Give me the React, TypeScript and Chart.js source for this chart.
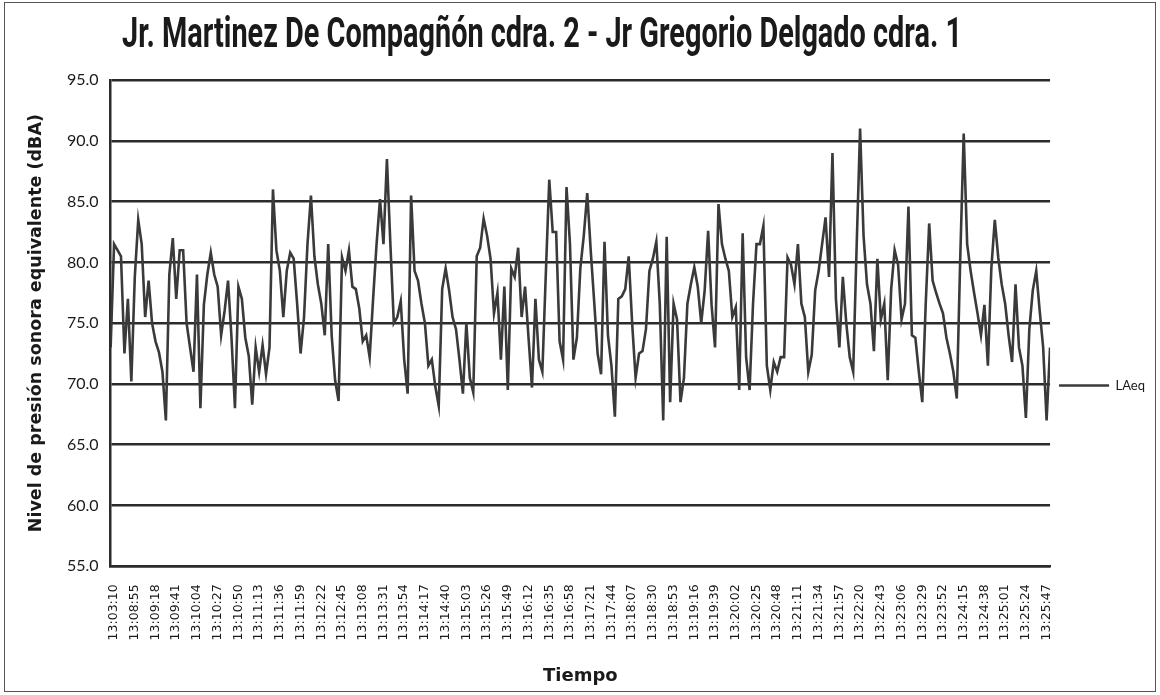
import React, { useEffect, useRef } from 'react';
import { Chart, registerables } from 'chart.js';

Chart.register(...registerables);

const chartTitle = 'Jr. Martinez De Compagñón cdra. 2 - Jr Gregorio Delgado cdra. 1';
const yAxisTitle = 'Nivel de presión sonora equivalente (dBA)';
const xAxisTitle = 'Tiempo';
const seriesName = 'LAeq';

const timeLabels = [
  '13:03:10', '13:08:55', '13:09:18', '13:09:41', '13:10:04', '13:10:27', '13:10:50', '13:11:13',
  '13:11:36', '13:11:59', '13:12:22', '13:12:45', '13:13:08', '13:13:31', '13:13:54', '13:14:17',
  '13:14:40', '13:15:03', '13:15:26', '13:15:49', '13:16:12', '13:16:35', '13:16:58', '13:17:21',
  '13:17:44', '13:18:07', '13:18:30', '13:18:53', '13:19:16', '13:19:39', '13:20:02', '13:20:25',
  '13:20:48', '13:21:11', '13:21:34', '13:21:57', '13:22:20', '13:22:43', '13:23:06', '13:23:29',
  '13:23:52', '13:24:15', '13:24:38', '13:25:01', '13:25:24', '13:25:47',
];

// samples between two consecutive time labels
const pointsPerLabel = 6;

const yMin = 55;
const yMax = 95;
const yStep = 5;

// LAeq readings (dBA); the first sample sits just before the first label
const laeq = [
  73, 81.5, 81, 80.5, 72.5, 77, 70.2, 78.8, 83.5, 81.5,
  75.5, 78.5, 75, 73.5, 72.6, 71, 67, 79, 82, 77,
  81, 81, 75, 73, 71, 79, 68, 76.5, 79, 80.8,
  79, 78, 74, 76, 78.5, 73.8, 68, 78, 77, 73.8,
  72.3, 68.3, 73, 71, 73.2, 70.8, 73, 86, 81, 79.3,
  75.5, 79.3, 80.8, 80.3, 76.6, 72.5, 75.5, 81.5, 85.5, 80.5,
  78.2, 76.6, 74, 81.5, 74, 70.3, 68.6, 80.4, 79.3, 81,
  78, 77.8, 76.2, 73.5, 74, 72.2, 77, 81.5, 85.2, 81.5,
  88.5, 81.5, 75, 75.5, 76.8, 72, 69.2, 85.5, 79.3, 78.5,
  76.6, 75, 71.5, 72, 69.8, 68.2, 77.8, 79.5, 77.7, 75.5,
  74.5, 72, 69.2, 75, 70.5, 69.3, 80.5, 81.2, 83.6, 82.2,
  80.3, 75.8, 77.5, 72, 78, 69.5, 79.5, 78.8, 81.2, 75.5,
  78, 73.8, 69.7, 77, 72, 71, 79, 86.8, 82.5, 82.5,
  73.5, 72, 86.2, 81.5, 72, 73.8, 79.5, 82.2, 85.7, 81,
  76.8, 72.5, 70.8, 81.7, 74, 71.5, 67.3, 77, 77.2, 77.8,
  80.5, 75, 70.5, 72.5, 72.7, 74.5, 79.3, 80.3, 81.7, 76.6,
  67, 82.1, 68.5, 76.6, 75.3, 68.5, 70.5, 76.6, 78.2, 79.6,
  78, 75, 77.7, 82.6, 76.5, 73, 84.8, 81.5, 80.3, 79.3,
  75.5, 76.3, 69.5, 82.4, 72.2, 69.5, 76.6, 81.5, 81.5, 83,
  71.5, 69.5, 71.8, 71, 72.2, 72.2, 80.4, 79.8, 78.2, 81.5,
  76.6, 75.5, 71, 72.4, 77.7, 79.3, 81.5, 83.7, 78.8, 89,
  77, 73, 78.8, 75, 72.2, 71, 81.3, 91, 82.2, 78.2,
  76.6, 72.7, 80.3, 75.3, 76.6, 70.3, 77.8, 81, 79.8, 75.3,
  76.6, 84.6, 74, 73.8, 71, 68.5, 76.6, 83.2, 78.5, 77.5,
  76.6, 75.8, 73.8, 72.5, 71, 68.8, 80.4, 90.6, 81.5, 79.3,
  77.5, 75.8, 74, 76.5, 71.5, 79.5, 83.5, 80.4, 78.2, 76.6,
  74, 71.8, 78.2, 73, 71.5, 67.2, 74.5, 77.7, 79.3, 76,
  73, 67, 73,
];

const ink = '#1a1a1a';
const lineColor = '#3a3a3a';
const gridColor = '#2b2b2b';

export default function App() {
  const canvasRef = useRef<HTMLCanvasElement | null>(null);

  useEffect(() => {
    const canvas = canvasRef.current;
    if (!canvas) return;

    const squeezedTitle = {
      id: 'squeezedTitle',
      afterDraw(chart: any) {
        const ctx = chart.ctx as CanvasRenderingContext2D;
        ctx.save();
        ctx.font = 'bold 42px Roboto';
        const w = ctx.measureText(chartTitle).width;
        const s = 840 / w;
        ctx.translate(537, 44);
        ctx.scale(s, 1);
        ctx.textAlign = 'center';
        ctx.textBaseline = 'alphabetic';
        ctx.fillStyle = ink;
        ctx.fillText(chartTitle, 0, 0);
        ctx.restore();
      },
    };

    const chart = new Chart(canvas, {
      type: 'line',
      data: {
        datasets: [
          {
            label: seriesName,
            data: laeq.map((v, i) => ({ x: i - 1, y: v })),
            borderColor: lineColor,
            backgroundColor: lineColor,
            borderWidth: 2.6,
            pointRadius: 0,
            tension: 0,
          },
        ],
      },
      options: {
        animation: false,
        responsive: false,
        devicePixelRatio: 1,
        layout: { padding: { top: 77, left: 17, right: 0, bottom: 0 } },
        plugins: {
          title: { display: false },
          tooltip: { enabled: false },
          legend: {
            position: 'right',
            labels: {
              usePointStyle: true,
              pointStyle: 'line',
              pointStyleWidth: 50,
              color: ink,
              padding: 9,
              font: { family: 'Lato', size: 13 },
            },
          },
        },
        scales: {
          x: {
            type: 'linear',
            min: -1,
            max: (timeLabels.length - 1) * pointsPerLabel + 1,
            afterBuildTicks: (scale: any) => {
              scale.ticks = timeLabels.map((_, j) => ({ value: j * pointsPerLabel }));
            },
            grid: { display: false },
            border: { display: true, color: gridColor, width: 2.5 },
            ticks: {
              autoSkip: false,
              minRotation: 90,
              maxRotation: 90,
              padding: 10,
              color: ink,
              font: { family: 'DejaVu Sans', size: 12.5 },
              callback: (v: any) => {
                const j = Math.round(Number(v) / pointsPerLabel);
                return timeLabels[j] ?? '';
              },
            },
            title: {
              display: true,
              text: xAxisTitle,
              color: ink,
              font: { family: 'DejaVu Sans', size: 18, weight: 'bold' },
              padding: { top: 15, bottom: 4 },
            },
          },
          y: {
            min: yMin,
            max: yMax,
            grid: { color: gridColor, lineWidth: 2.5, drawTicks: false },
            border: { display: true, color: gridColor, width: 2.5 },
            ticks: {
              stepSize: yStep,
              padding: 12,
              color: ink,
              font: { family: 'Lato', size: 16 },
              callback: (v: any) => Number(v).toFixed(1),
            },
            title: {
              display: true,
              text: yAxisTitle,
              color: ink,
              font: { family: 'DejaVu Sans', size: 17.5, weight: 'bold' },
              padding: { top: 4, bottom: 8 },
            },
          },
        },
      },
      plugins: [squeezedTitle],
    });

    return () => chart.destroy();
  }, []);

  return (
    <div
      style={{
        position: 'absolute',
        left: 4,
        top: 2,
        width: 1150,
        height: 688,
        border: '1px solid #555',
        background: '#fff',
      }}
    >
      <canvas ref={canvasRef} width={1150} height={688} style={{ display: 'block' }} />
    </div>
  );
}
